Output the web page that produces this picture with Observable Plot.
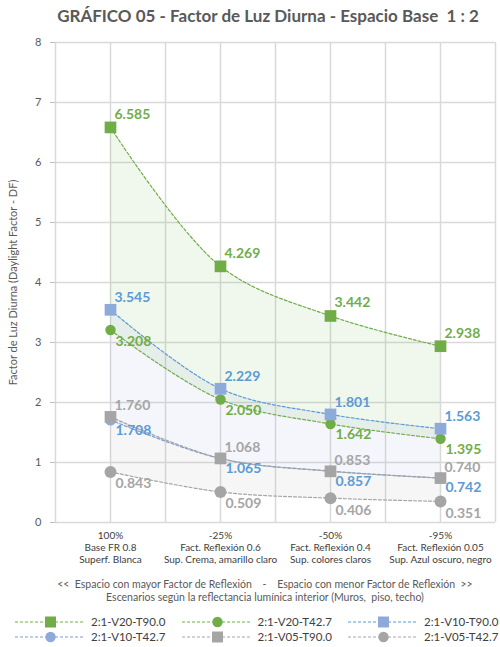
<!DOCTYPE html>
<html>
<head>
<meta charset="utf-8">
<script src="https://cdn.jsdelivr.net/npm/d3@7"></script>
<script src="https://cdn.jsdelivr.net/npm/@observablehq/plot@0.6"></script>
<style>
  body { margin: 0; background: #fff; font-family: Lato, "Open Sans", sans-serif; }
  #wrap { width: 500px; height: 647px; position: relative; }
  .title { height: 30px; line-height: 32px; font-weight: bold; font-size: 17px; color: #595959;
           text-align: center; padding-left: 36px; white-space: pre; box-sizing: border-box; }
  .foot { padding-top: 8px; padding-left: 30px; font-size: 10.5px; line-height: 13px; color: #595959;
          text-align: center; white-space: pre; height: 34px; box-sizing: border-box; }
  .legend { padding-top: 10px; padding-left: 15px; display: grid; grid-template-columns: repeat(3, 166.5px); }
  .item { display: flex; align-items: center; height: 15px; font-size: 11.5px; color: #404040; }
  .item svg { margin-right: 8px; }
</style>
</head>
<body>
<div id="wrap">
  <div class="title">GRÁFICO 05 - Factor de Luz Diurna - Espacio Base  1 : 2</div>
  <div id="chart"></div>
  <div class="foot">&lt;&lt;  Espacio con mayor Factor de Reflexión    -    Espacio con menor Factor de Reflexión  &gt;&gt;
Escenarios según la reflectancia lumínica interior (Muros,  piso, techo)</div>
  <div class="legend" id="legend"></div>
</div>
<script>
// Reflectance scenarios (x axis)
const categories = [
  "100%\nBase FR 0.8\nSuperf. Blanca",
  "-25%\nFact. Reflexión 0.6\nSup. Crema, amarillo claro",
  "-50%\nFact. Reflexión 0.4\nSup. colores claros",
  "-95%\nFact. Reflexión 0.05\nSup. Azul oscuro, negro"
];

// Daylight factor per scenario, one array per window / transmittance case
const V20_T90 = [6.585, 4.269, 3.442, 2.938];
const V20_T42 = [3.208, 2.050, 1.642, 1.395];
const V10_T90 = [3.545, 2.229, 1.801, 1.563];
const V10_T42 = [1.708, 1.065, 0.857, 0.742];
const V05_T90 = [1.760, 1.068, 0.853, 0.740];
const V05_T42 = [0.843, 0.509, 0.406, 0.351];

const yTicks = [0, 1, 2, 3, 4, 5, 6, 7, 8];

const GREEN = "#70ad47", BLUE = "#5b9bd5", BLUE_MK = "#8eaadb", GRAY = "#a5a5a5";

const series = [
  {name: "2:1-V20-T90.0", values: V20_T90, symbol: "square", line: GREEN, marker: GREEN, label: GREEN, r: 6.6, dx: 4, dy: -13},
  {name: "2:1-V20-T42.7", values: V20_T42, symbol: "circle", line: GREEN, marker: GREEN, label: GREEN, r: 5.2, dx: 5, dy: 11},
  {name: "2:1-V10-T90.0", values: V10_T90, symbol: "square", line: BLUE, marker: BLUE_MK, label: BLUE, r: 6.6, dx: 4, dy: -12},
  {name: "2:1-V10-T42.7", values: V10_T42, symbol: "circle", line: "#7f9cd0", marker: BLUE_MK, label: BLUE, r: 5.6, dx: 5, dy: 10},
  {name: "2:1-V05-T90.0", values: V05_T90, symbol: "square", line: GRAY, marker: GRAY, label: GRAY, r: 6.6, dx: 4, dy: -11},
  {name: "2:1-V05-T42.7", values: V05_T42, symbol: "circle", line: GRAY, marker: GRAY, label: GRAY, r: 6.0, dx: 5, dy: 12}
];

const rowsOf = s => s.values.map((v, i) => ({name: s.name, x: i + 1, y: v}));

// Shaded bands between the two transmittance cases of each window size
const bands = [
  {top: V20_T90, bottom: V20_T42, fill: GREEN, opacity: 0.1},
  {top: V10_T90, bottom: V10_T42, fill: "#8faadc", opacity: 0.1},
  {top: V05_T90, bottom: V05_T42, fill: GRAY, opacity: 0.1}
];

const curve = "catmull-rom";

const marks = [
  Plot.gridX({ticks: d3.range(0.5, 4.51, 0.5), stroke: "#d9d9d9", strokeOpacity: 1, strokeWidth: 1.5}),
  Plot.gridY({ticks: yTicks, stroke: "#d9d9d9", strokeOpacity: 1, strokeWidth: 1.5}),
  ...bands.map(b => Plot.areaY(b.top.map((t, i) => ({x: i + 1, t, b: b.bottom[i]})),
    {x: "x", y1: "b", y2: "t", curve, fill: b.fill, fillOpacity: b.opacity})),
  Plot.axisY({ticks: yTicks, tickSize: 5, tickPadding: 9, stroke: "#bfbfbf", fill: "#595959", fontSize: 11,
    label: "Factor de Luz Diurna (Daylight Factor - DF)", labelAnchor: "center", labelArrow: "none", labelOffset: 46}),
  Plot.axisX({ticks: [1, 2, 3, 4], tickFormat: i => categories[i - 1], tickSize: 0, tickPadding: 8,
    fontSize: 10, lineHeight: 1.2, fill: "#404040", label: null})
];

for (const s of series) {
  const rows = rowsOf(s);
  marks.push(Plot.line(rows, {x: "x", y: "y", curve, stroke: s.line, strokeWidth: 1.2, strokeDasharray: "3,2"}));
  marks.push(Plot.dot(rows, {x: "x", y: "y", symbol: s.symbol, r: s.r, fill: s.marker, stroke: "none"}));
}
for (const s of series) {
  marks.push(Plot.text(rowsOf(s), {x: "x", y: "y", text: d => d.y.toFixed(3), dx: s.dx, dy: s.dy,
    textAnchor: "start", fill: s.label, fontWeight: "bold", fontSize: 14}));
}

const chart = Plot.plot({
  width: 500,
  height: 540,
  marginTop: 12,
  marginBottom: 48,
  marginLeft: 55,
  marginRight: 5,
  x: {type: "linear", domain: [0.5, 4.5]},
  y: {domain: [0, 8]},
  style: {fontFamily: "Lato, 'Open Sans', sans-serif", fontSize: "11px", color: "#595959", background: "white"},
  marks
});
document.getElementById("chart").append(chart);

// Legend: dashed line swatch with the series marker, then the name
const legend = document.getElementById("legend");
for (const s of series) {
  const item = document.createElement("div");
  item.className = "item";
  const sw = Plot.plot({
    width: 68, height: 15, margin: 0,
    x: {domain: [0, 68], axis: null}, y: {domain: [0, 1], axis: null},
    style: {background: "transparent"},
    marks: [
      Plot.ruleY([0.5], {x1: 0, x2: 68, stroke: s.line, strokeWidth: 1.2, strokeDasharray: "3,2"}),
      Plot.dot([{x: 35, y: 0.5}], {x: "x", y: "y", symbol: s.symbol, r: s.symbol === "square" ? 6.2 : 5.2, fill: s.marker})
    ]
  });
  item.append(sw);
  const t = document.createElement("span");
  t.textContent = s.name;
  item.append(t);
  legend.append(item);
}
</script>
</body>
</html>
